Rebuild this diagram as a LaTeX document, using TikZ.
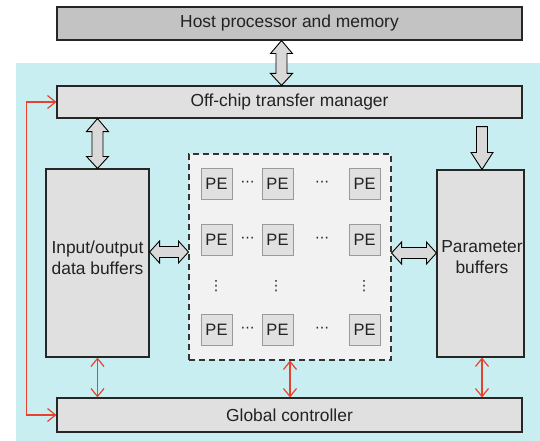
\documentclass[tikz,border=0pt]{standalone}
\usepackage{fontspec}
\setmainfont{Liberation Sans}
\newfontfamily\dejavu{DejaVu Sans}
\usetikzlibrary{calc,arrows.meta}
\definecolor{bgcyan}{HTML}{C9EEF2}
\definecolor{hostgray}{HTML}{C3C3C3}
\definecolor{boxgray}{HTML}{E1E0E1}
\definecolor{gridfill}{HTML}{F2F2F2}
\definecolor{pefill}{HTML}{E0E0E0}
\definecolor{peedge}{HTML}{9A9A9A}
\definecolor{redline}{HTML}{E8422E}
\definecolor{arrowfill}{HTML}{D9D9D9}
\definecolor{txt}{HTML}{222222}
\newcommand\vdblarrow[2]{%
 \draw[blockarrow] let \p1=(#1), \p2=(#2) in (\x1,\y1) -- (\x1+11pt,\y1-13pt) -- (\x1+5.5pt,\y1-13pt) -- (\x2+5.5pt,\y2+12pt) -- (\x2+11pt,\y2+12pt) -- (\x2,\y2) -- (\x2-11pt,\y2+12pt) -- (\x2-5.5pt,\y2+12pt) -- (\x1-5.5pt,\y1-13pt) -- (\x1-11pt,\y1-13pt) -- cycle;}
\newcommand\hdblarrow[2]{%
 \draw[blockarrow] let \p1=(#1), \p2=(#2) in (\x1,\y1) -- (\x1+10pt,\y1+11pt) -- (\x1+10pt,\y1+5.5pt) -- (\x2-10pt,\y2+5.5pt) -- (\x2-10pt,\y2+11pt) -- (\x2,\y2) -- (\x2-10pt,\y2-11pt) -- (\x2-10pt,\y2-5.5pt) -- (\x1+10pt,\y1-5.5pt) -- (\x1+10pt,\y1-11pt) -- cycle;}
\newcommand\vsglarrow[2]{%
 \draw[blockarrow] let \p1=(#1), \p2=(#2) in (\x1-5.5pt,\y1) -- (\x1+5.5pt,\y1) -- (\x2+5.5pt,\y2+17pt) -- (\x2+11pt,\y2+17pt) -- (\x2,\y2) -- (\x2-11pt,\y2+17pt) -- (\x2-5.5pt,\y2+17pt) -- cycle;}
\tikzset{
 box/.style={draw=black!85, line width=1.1pt, fill=boxgray, inner sep=0pt, text=txt,
   font=\fontsize{17.4}{21}\selectfont},
 pebox/.style={draw=peedge, line width=1pt, fill=pefill, minimum width=31pt, minimum height=31pt,
   inner sep=0pt, text=txt, font=\fontsize{16.5}{20}\selectfont},
 blockarrow/.style={draw=black, line width=0.9pt, fill=arrowfill, line join=miter},
 redarrow/.style={draw=redline, line width=1.2pt, {Straight Barb[length=8pt,width=13pt]}-{Straight Barb[length=8pt,width=13pt]}},
 lbl/.style={text=txt, font=\fontsize{17.4}{21}\selectfont, align=center, inner sep=0pt},
 dotsst/.style={text=txt, font=\dejavu\fontsize{14}{16}\selectfont, inner sep=0pt}
}
\begin{document}
\begin{tikzpicture}[x=1pt,y=-1pt]
\useasboundingbox (0,0) rectangle (540,441);
\fill[bgcyan] (16,63) rectangle (540,441);
\node[box, fill=hostgray, minimum width=465pt, minimum height=33pt] (host) at (289.5,23.5) {Host processor and memory};
\node[box, minimum width=465pt, minimum height=32pt] (offchip) at (289.5,102) {Off-chip transfer manager};
\node[box, minimum width=103pt, minimum height=188pt] (io) at (97.5,263) {};
\node[lbl] (iotext) at (97.5,257.5) {Input/output\\data buffers};
\node[box, minimum width=87pt, minimum height=187pt] (param) at (480.5,263.5) {};
\node[lbl] (paramtext) at (482,257.5) {Parameter\\buffers};
\node[draw=black!80, dashed, dash pattern=on 6pt off 4pt, line width=1.1pt, fill=gridfill, minimum width=202pt, minimum height=206pt, inner sep=0pt] (grid) at (290,257) {};
\node[box, minimum width=465pt, minimum height=34pt] (global) at (289.5,415) {Global controller};
% PE array
\foreach \r/\y in {1/183.5,2/240,4/330}{
  \node[pebox] (pe\r a) at (216.5,\y) {PE};
  \node[pebox] (pe\r b) at (277.5,\y) {PE};
  \node[pebox] (pe\r c) at (364.5,\y) {PE};
  \node[dotsst] (hd\r a) at (247.5,\y) {⋯};
  \node[dotsst] (hd\r b) at (322,\y) {⋯};
}
\node[dotsst] (vd1) at (216,286) {⋮};
\node[dotsst] (vd2) at (276,286) {⋮};
\node[dotsst] (vd3) at (364,286) {⋮};
% block arrows
\coordinate (hostarr) at ($(host.south)+(-8,0)$);
\coordinate (offarr) at (hostarr |- offchip.north);
\vdblarrow{hostarr}{offarr}
\coordinate (ioarrtop) at (io.north |- offchip.south);
\vdblarrow{ioarrtop}{io.north}
\coordinate (parr) at ($(param.north)+(1.5,0)$);
\coordinate (parrtop) at ($(parr |- offchip.south)+(0,8)$);
\vsglarrow{parrtop}{parr}
\coordinate (ioE) at ($(io.east)+(0,-11)$);
\coordinate (gridW) at (grid.west |- ioE);
\hdblarrow{ioE}{gridW}
\coordinate (gridE) at ($(grid.east)+(0,-4)$);
\coordinate (parW) at (param.west |- gridE);
\hdblarrow{gridE}{parW}
% red control arrows
\draw[redarrow] (io.south) -- (io.south |- global.north);
\draw[redarrow] (grid.south) -- (grid.south |- global.north);
\draw[redarrow] (parr |- param.south) -- (parr |- global.north);
\draw[redarrow] (offchip.west) -- ++(-30,0) |- (global.west);
\end{tikzpicture}
\end{document}
